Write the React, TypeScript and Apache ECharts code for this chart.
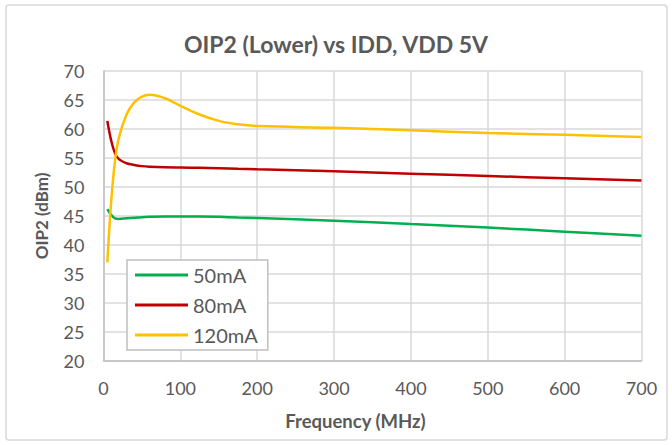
import React, { useEffect, useRef } from "react";
import * as echarts from "echarts";

const freqs = [5, 10, 15, 20, 30, 40, 50, 60, 80, 100, 125, 150, 175, 200, 300, 400, 500, 600, 700];
const ma50 = [46.2, 45.2, 44.6, 44.5, 44.6, 44.7, 44.8, 44.85, 44.9, 44.9, 44.9, 44.85, 44.75, 44.65, 44.2, 43.6, 43.0, 42.3, 41.6];
const ma80 = [61.4, 58.0, 55.8, 54.8, 54.1, 53.8, 53.6, 53.5, 53.4, 53.35, 53.3, 53.25, 53.15, 53.05, 52.7, 52.3, 51.9, 51.5, 51.1];
const ma120 = [37.0, 47.5, 54.5, 58.5, 62.5, 64.6, 65.6, 65.9, 65.3, 64.0, 62.5, 61.4, 60.8, 60.5, 60.2, 59.8, 59.3, 59.0, 58.6];
const seriesNames = ["50mA", "80mA", "120mA"];
const seriesColors = ["#00b050", "#c00000", "#ffc000"];
const yTicks = { min: 20, max: 70, interval: 5 };
const xTicks = { min: 0, max: 700, interval: 100 };

const FONT = "Lato, 'Open Sans', sans-serif";

export default function App() {
  const ref = useRef<HTMLDivElement>(null);
  useEffect(() => {
    if (!ref.current) return;
    const chart = echarts.init(ref.current, null, { renderer: "svg" });
    const all = [ma50, ma80, ma120];
    chart.setOption({
      animation: false,
      backgroundColor: "#ffffff",
      title: {
        text: "OIP2 (Lower) vs IDD, VDD 5V",
        left: "center",
        top: 27,
        padding: [5, 0, 5, 16],
        textStyle: { fontFamily: FONT, fontSize: 23, fontWeight: "bold", color: "#595959" },
      },
      graphic: [
        {
          type: "rect",
          shape: { x: 6, y: 5, width: 661, height: 435, r: 3 },
          style: { fill: "none", stroke: "#d9d9d9", lineWidth: 1.5 },
          silent: true,
        },
      ],
      grid: { left: 103.5, right: 30.5, top: 71, bottom: 84 },
      legend: {
        orient: "vertical",
        left: 127,
        top: 260,
        data: seriesNames,
        icon: "rect",
        itemWidth: 53,
        itemHeight: 3,
        itemGap: 8,
        padding: [4, 10, 4, 8],
        backgroundColor: "#ffffff",
        borderColor: "#bfbfbf",
        borderWidth: 1.5,
        textStyle: { fontFamily: FONT, fontSize: 20, color: "#595959", lineHeight: 22, padding: [0, 0, 0, 0] },
      },
      xAxis: {
        type: "value",
        min: xTicks.min,
        max: xTicks.max,
        interval: xTicks.interval,
        name: "Frequency (MHz)",
        nameLocation: "middle",
        nameGap: 50,
        nameTextStyle: { fontFamily: FONT, fontSize: 18.5, fontWeight: "bold", color: "#595959", padding: [0, 34, 0, 0] },
        axisLine: { show: true, lineStyle: { color: "#bfbfbf", width: 1.5 } },
        axisTick: { show: false },
        axisLabel: { fontFamily: FONT, fontSize: 18, color: "#595959", margin: 18 },
        splitLine: { show: true, lineStyle: { color: "#d9d9d9", width: 1.5 } },
      },
      yAxis: {
        type: "value",
        min: yTicks.min,
        max: yTicks.max,
        interval: yTicks.interval,
        name: "OIP2 (dBm)",
        nameLocation: "middle",
        nameGap: 54,
        nameTextStyle: { fontFamily: FONT, fontSize: 17, fontWeight: "bold", color: "#595959" },
        axisLine: { show: true, lineStyle: { color: "#bfbfbf", width: 1.5 } },
        axisTick: { show: false },
        axisLabel: { fontFamily: FONT, fontSize: 18, color: "#595959", margin: 19 },
        splitLine: { show: true, lineStyle: { color: "#d9d9d9", width: 1.5 } },
      },
      series: seriesNames.map((name, i) => ({
        name,
        type: "line",
        smooth: 0.4,
        showSymbol: false,
        symbol: "none",
        color: seriesColors[i],
        lineStyle: { color: seriesColors[i], width: 2.5 },
        data: freqs.map((f, j) => [f, all[i][j]]),
      })),
    });
    return () => chart.dispose();
  }, []);
  return <div ref={ref} style={{ position: "fixed", left: 0, top: 0, width: 672, height: 445 }} />;
}
